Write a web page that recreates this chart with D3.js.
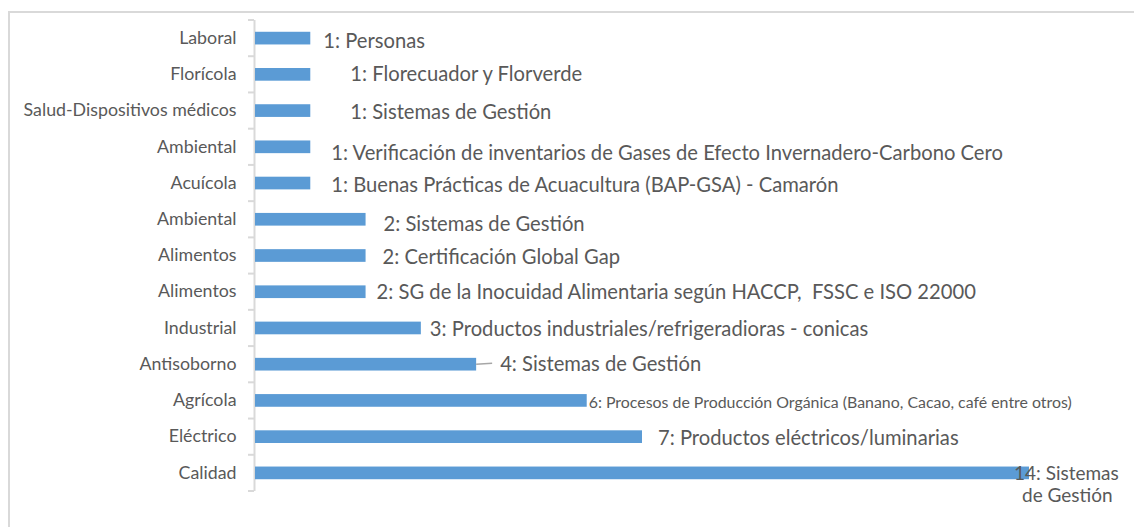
<!DOCTYPE html>
<html>
<head>
<meta charset="utf-8">
<script src="https://cdn.jsdelivr.net/npm/d3@7"></script>
<style>
  body { margin: 0; background: #fff; }
  svg { display: block; font-family: Lato, "Open Sans", sans-serif; }
</style>
</head>
<body>
<svg width="1134" height="527"></svg>
<script>
// data, top to bottom as in the chart
const sectors = ['Laboral', 'Florícola', 'Salud-Dispositivos médicos', 'Ambiental', 'Acuícola',
  'Ambiental', 'Alimentos', 'Alimentos', 'Industrial', 'Antisoborno', 'Agrícola', 'Eléctrico', 'Calidad'];
const counts = [1, 1, 1, 1, 1, 2, 2, 2, 3, 4, 6, 7, 14];
const scopes = [
  'Personas',
  'Florecuador y Florverde',
  'Sistemas de Gestión',
  'Verificación de inventarios de Gases de Efecto Invernadero-Carbono Cero',
  'Buenas Prácticas de Acuacultura (BAP-GSA) - Camarón',
  'Sistemas de Gestión',
  'Certificación Global Gap',
  'SG de la Inocuidad Alimentaria según HACCP,  FSSC e ISO 22000',
  'Productos industriales/refrigeradioras - conicas',
  'Sistemas de Gestión',
  'Procesos de Producción Orgánica (Banano, Cacao, café entre otros)',
  'Productos eléctricos/luminarias',
  'Sistemas|de Gestión'
];

// label placement, as in the original (offset from bar end / bar centre)
const labelDx = [13, 40, 40, 21, 21, 18, 17, 11, 9, 24, 2, 16, -15];
const labelDy = [1.5, -1.5, 0, 5, 0.5, 3.5, 0.7, -0.8, -0.4, -1.2, 1, 0.7, -1];

const svg = d3.select('svg');
const idx = d3.range(sectors.length);

// chart border
svg.append('rect')
  .attr('x', 9).attr('y', 12)
  .attr('width', 1200).attr('height', 600)
  .attr('fill', 'none').attr('stroke', '#d9d9d9').attr('stroke-width', 2);

const x = d3.scaleLinear().domain([0, 14]).range([255, 1029]);
const y = d3.scaleBand().domain(idx).range([20, 491]).paddingInner(0.65).paddingOuter(0.325);

// category axis
const yAxis = svg.append('g')
  .attr('transform', 'translate(254.5,0)')
  .call(d3.axisLeft(y).tickSize(0).tickPadding(18).tickFormat(i => sectors[i]));
yAxis.select('.domain').attr('stroke', '#d9d9d9').attr('stroke-width', 2)
  .attr('d', 'M0,20V491');
yAxis.selectAll('text')
  .attr('fill', '#595959')
  .style('font-size', '17.8px')
  .style('font-family', 'Lato, sans-serif');

// tick marks on band boundaries
const step = y.step();
svg.append('g').selectAll('line')
  .data(d3.range(sectors.length + 1))
  .join('line')
  .attr('x1', 248).attr('x2', 254)
  .attr('y1', i => 20 + i * step).attr('y2', i => 20 + i * step)
  .attr('stroke', '#d9d9d9').attr('stroke-width', 2);

// bars
svg.append('g').selectAll('rect')
  .data(idx)
  .join('rect')
  .attr('x', x(0))
  .attr('y', i => y(i))
  .attr('width', i => x(counts[i]) - x(0))
  .attr('height', y.bandwidth())
  .attr('fill', '#5b9bd5');

// leader line for Antisoborno
svg.append('line')
  .attr('x1', x(counts[9])).attr('x2', x(counts[9]) + 16)
  .attr('y1', y(9) + y.bandwidth() / 2).attr('y2', y(9) + y.bandwidth() / 2 - 1)
  .attr('stroke', '#a6a6a6').attr('stroke-width', 1.5);

// data labels
const labels = svg.append('g').selectAll('text')
  .data(idx)
  .join('text')
  .attr('x', i => x(counts[i]) + labelDx[i])
  .attr('y', i => y(i) + y.bandwidth() / 2 + labelDy[i])
  .attr('dominant-baseline', 'central')
  .attr('fill', '#595959')
  .style('white-space', 'pre')
  .style('font-size', i => i === 10 ? '15.9px' : i === 12 ? '19px' : '20.2px');

labels.each(function (i) {
  const lines = scopes[i].split('|');
  const t = d3.select(this);
  lines.forEach((ln, k) => {
    t.append('tspan')
      .attr('x', x(counts[i]) + labelDx[i] + (k > 0 ? 8 : 0))
      .attr('dy', k === 0 ? 0 : 22)
      .text(k === 0 ? `${counts[i]}: ${ln}` : ln);
  });
});
</script>
</body>
</html>
